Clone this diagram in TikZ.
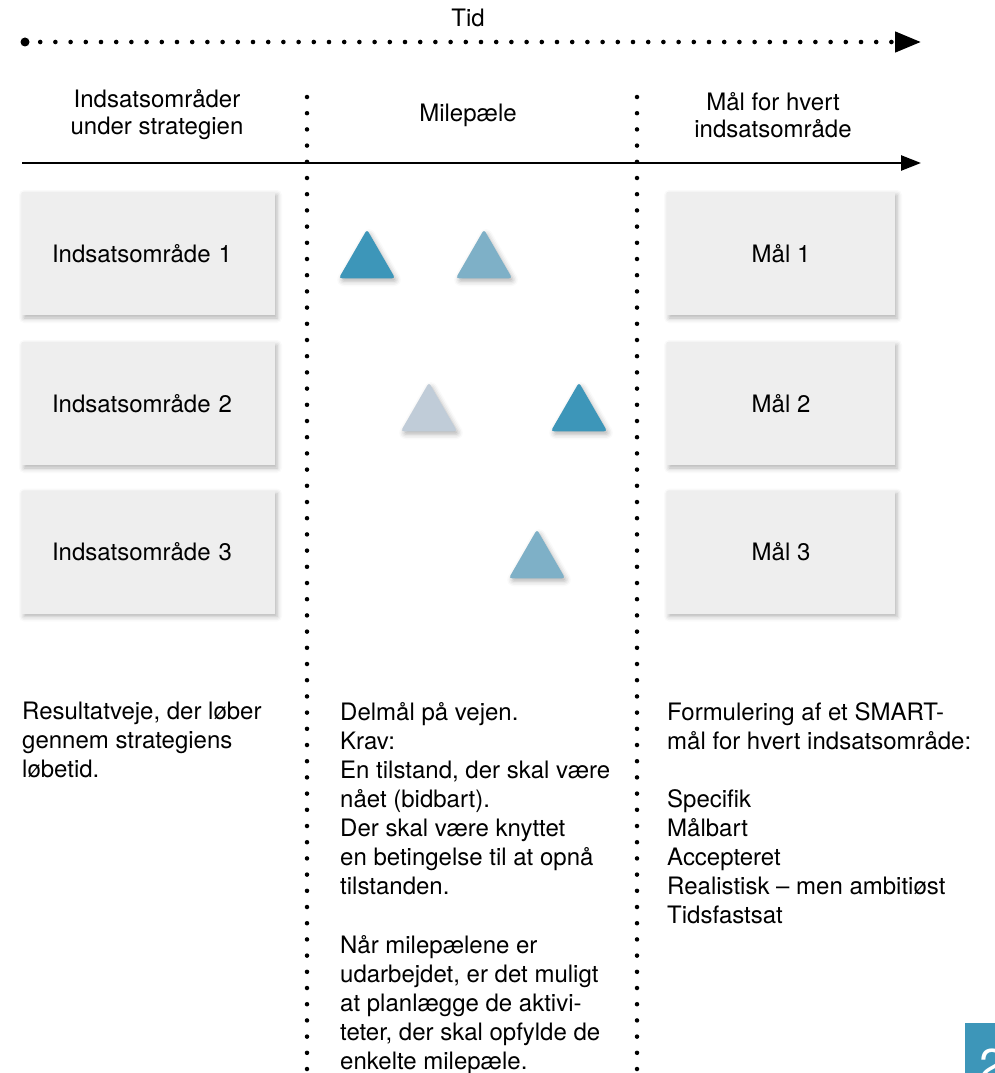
\documentclass[tikz,border=0pt]{standalone}
\usepackage{fontspec}
\setmainfont{TeX Gyre Heros}
\usetikzlibrary{arrows.meta,positioning,shapes.geometric,shadows.blur}
\definecolor{deepblue}{RGB}{61,150,185}
\definecolor{midblue}{RGB}{126,176,199}
\definecolor{paleblue}{RGB}{192,204,216}
\definecolor{boxgrey}{RGB}{238,238,238}

\begin{document}
\begin{tikzpicture}[x=1pt,y=-1pt,
  font=\fontsize{24}{29}\selectfont,
  shade/.style={blur shadow={shadow xshift=2pt,shadow yshift=-3pt,
                shadow blur radius=5pt,shadow opacity=30}},
  area/.style={shade,fill=boxgrey,minimum height=123pt,inner xsep=30pt,
               text width=193pt,align=left},
  goal/.style={shade,fill=boxgrey,minimum width=228pt,minimum height=123pt,
               align=center},
  mile/.style={shade,regular polygon,regular polygon sides=3,minimum size=65pt,
               inner sep=0pt,rounded corners=3pt},
  head/.style={align=center,font=\fontsize{24}{27}\selectfont},
  note/.style={anchor=north west,align=left,inner sep=0pt,
               font=\fontsize{24}{29.1}\selectfont},
  sepline/.style={line width=4.5pt,line cap=round,dash pattern=on 0pt off 16.2pt},
  timeline/.style={line width=4.6pt,line cap=round,dash pattern=on 0pt off 15.2pt,
                   -{Triangle[length=26pt,width=20pt]}},
  ar/.style={-{Triangle[length=20pt,width=15pt]},line width=2.5pt}]

\useasboundingbox (0,0) rectangle (995,1073);
\clip (0,0) rectangle (995,1073);

\node (tid) at (468,18) {Tid};
\node[circle,fill=black,inner sep=0pt,minimum size=9pt] (t0) at (25,42) {};
\coordinate (t1) at (921,42);
\draw[timeline] (t0.center) -- (t1);

\node[head] (h1) at (157,115) {Indsatsområder\\under strategien};
\node[head] (h2) at (468,115) {Milepæle};
\node[head] (h3) at (773,115) {Mål for hvert\\indsatsområde};

\coordinate (a0) at (22,163);
\coordinate (a1) at (921,163);
\draw[ar] (a0) -- (a1);

\draw[sepline] (307,97) -- (307,1090);
\draw[sepline] (637,97) -- (637,1090);

\node[area] (i1) at (148.5,253.5) {Indsatsområde 1};
\node[area] (i2) at (148.5,403.5) {Indsatsområde 2};
\node[area] (i3) at (148.5,552) {Indsatsområde 3};

\node[goal] (g1) at (781,253.5) {Mål 1};
\node[goal] (g2) at (781,403.5) {Mål 2};
\node[goal] (g3) at (781,552) {Mål 3};

\node[mile,fill=deepblue] (m1) at (367,262) {};
\node[mile,fill=midblue] (m2) at (484,262) {};
\node[mile,fill=paleblue] (m3) at (429,415) {};
\node[mile,fill=deepblue] (m4) at (579,415) {};
\node[mile,fill=midblue] (m5) at (537,562) {};

\node[note] (n1) at (22,702)
  {Resultatveje, der løber\\
   gennem strategiens\\
   løbetid.};
\node[note] (n2) at (340,702)
  {Delmål på vejen.\\
   Krav:\\
   En tilstand, der skal være\\
   nået (bidbart).\\
   Der skal være knyttet\\
   en betingelse til at opnå\\
   tilstanden.\\[29.1pt]
   Når milepælene er\\
   udarbejdet, er det muligt\\
   at planlægge de aktivi-\\
   teter, der skal opfylde de\\
   enkelte milepæle.};
\node[note] (n3) at (667,702)
  {Formulering af et SMART-\\
   mål for hvert indsatsområde:\\[29.1pt]
   Specifik\\
   Målbart\\
   Accepteret\\
   Realistisk – men ambitiøst\\
   Tidsfastsat};

\fill[deepblue] (965,1023) rectangle (1010,1100);
\node[anchor=north west,inner sep=0pt,text=white,font=\fontsize{46}{46}\selectfont]
  (pg) at (979,1049) {2};
\end{tikzpicture}
\end{document}
